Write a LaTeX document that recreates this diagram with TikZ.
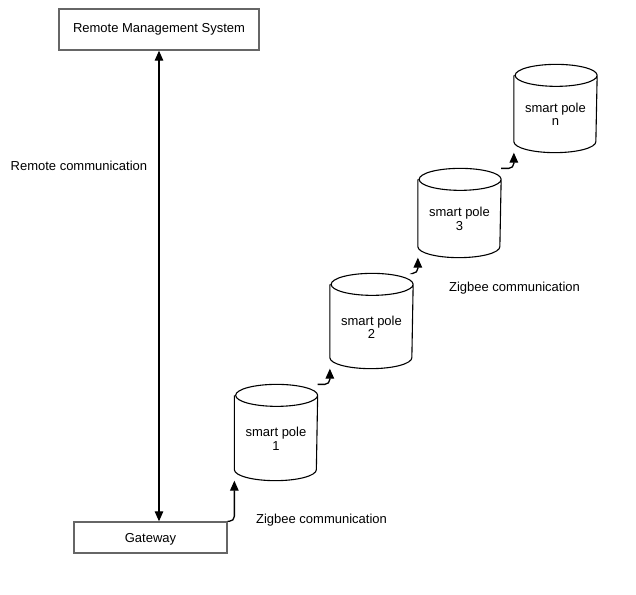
\documentclass[tikz,border=0pt]{standalone}
\usepackage{fontspec}
\setmainfont{Liberation Sans}
\usetikzlibrary{positioning}
\usetikzlibrary{arrows.meta}
\tikzstyle{sys_box} = [rectangle, draw=black!60, line width=1.4pt, fill=white, align=center, inner sep=0pt]
\tikzstyle{pole_n} = [rectangle, inner sep=0pt, minimum width=82pt]
\tikzstyle{pole_t} = [align=center, inner sep=0pt]
\tikzstyle{lbl} = [inner sep=0pt, text depth=0pt]
\tikzstyle{cyl} = [draw=black, line width=1.1pt, fill=white]

\begin{document}
\begin{tikzpicture}[x=1pt,y=-1pt,font=\fontsize{13}{13.5}\selectfont,->,>={Triangle[length=10pt,width=8.5pt]},line width=1.3pt]
\useasboundingbox (0,0) rectangle (636,594);
\node [sys_box, minimum width=200pt, minimum height=41pt] (rms) at (159,29.5) {Remote Management System};
\node [sys_box, minimum width=153pt, minimum height=31pt, text depth=0pt] (gw) at (150.5,537.5) {Gateway};

\node [pole_n, minimum height=95pt] (p1) at (276,432.5) {};
\node [pole_n, minimum height=94pt] (p2) at (371.5,321) {};
\node [pole_n, minimum height=88pt] (p3) at (459.5,213) {};
\node [pole_n, minimum height=87pt] (pn) at (555.5,108.5) {};
\foreach \p in {p1,p2,p3,pn}
  \draw [cyl,-] ([yshift=-11pt]\p.north west) -- ([yshift=11pt]\p.south west)
    arc [start angle=180, end angle=360, x radius=41pt, y radius=11pt]
    -- ([yshift=-11pt]\p.north east)
    arc [start angle=0, end angle=360, x radius=41pt, y radius=11pt];
\node [pole_t] (p1t) at ([yshift=-6.5pt]p1.center) {smart pole\\1};
\node [pole_t] (p2t) at ([yshift=-6.5pt]p2.center) {smart pole\\2};
\node [pole_t] (p3t) at ([yshift=-6pt]p3.center) {smart pole\\3};
\node [pole_t] (pnt) at ([yshift=-6pt]pn.center) {smart pole\\n};

\draw [<->] (rms.south) -- (rms.south |- gw.north);
\draw [rounded corners=5pt] (gw.north east) -| (p1.south west);
\draw [rounded corners=5pt] (p1.north east) -| (p2.south west);
\draw [rounded corners=5pt] (p2.north east) -| (p3.south west);
\draw [rounded corners=5pt] (p3.north east) -| (pn.south west);

\node [lbl, anchor=west] (rc) at (10,166) {Remote communication};
\node [lbl] (zb1) at (321.5,519) {Zigbee communication};
\node [lbl] (zb2) at (514.5,287) {Zigbee communication};
\end{tikzpicture}
\end{document}
